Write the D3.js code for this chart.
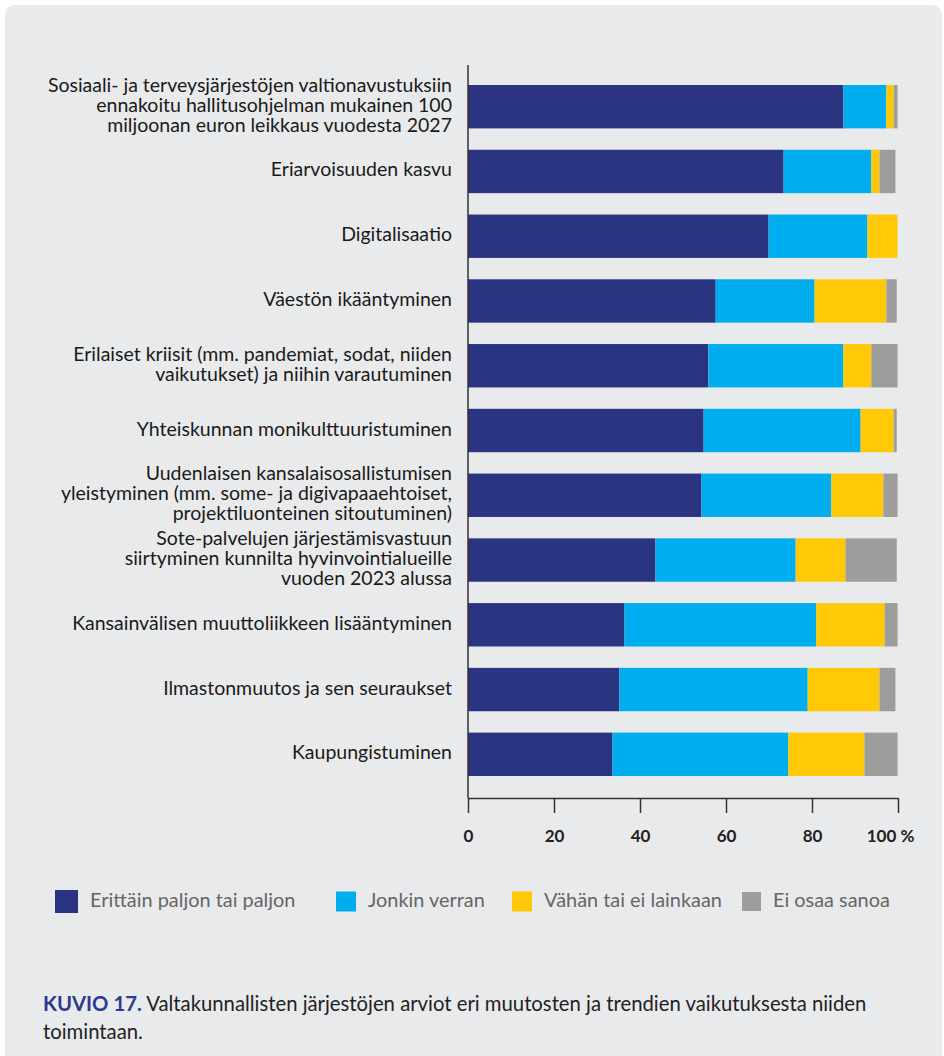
<!DOCTYPE html>
<html>
<head>
<meta charset="utf-8">
<script src="https://cdn.jsdelivr.net/npm/d3@7"></script>
<style>
  html, body { margin: 0; padding: 0; background: #ffffff; }
  svg { display: block; }
</style>
</head>
<body>
<div id="chart"></div>
<script>
// Kategoriat (rivitetty kuten alkuperäisessä)
const categories = [
    ["Sosiaali- ja terveysjärjestöjen valtionavustuksiin", "ennakoitu hallitusohjelman mukainen 100", "miljoonan euron leikkaus vuodesta 2027"],
    ["Eriarvoisuuden kasvu"],
    ["Digitalisaatio"],
    ["Väestön ikääntyminen"],
    ["Erilaiset kriisit (mm. pandemiat, sodat, niiden", "vaikutukset) ja niihin varautuminen"],
    ["Yhteiskunnan monikulttuuristuminen"],
    ["Uudenlaisen kansalaisosallistumisen", "yleistyminen (mm. some- ja digivapaaehtoiset,", "projektiluonteinen sitoutuminen)"],
    ["Sote-palvelujen järjestämisvastuun", "siirtyminen kunnilta hyvinvointialueille", "vuoden 2023 alussa"],
    ["Kansainvälisen muuttoliikkeen lisääntyminen"],
    ["Ilmastonmuutos ja sen seuraukset"],
    ["Kaupungistuminen"]
];

// Sarjat (%)
const veryMuch = [87.3, 73.4, 69.9, 57.6, 55.9, 54.8, 54.3, 43.6, 36.4, 35.2, 33.6];
const somewhat = [10.0, 20.4, 23.0, 23.0, 31.4, 36.5, 30.2, 32.6, 44.6, 43.8, 40.9];
const little   = [1.7, 1.9, 7.0, 16.7, 6.5, 7.7, 12.1, 11.6, 15.9, 16.7, 17.7];
const dontKnow = [0.9, 3.7, 0.0, 2.4, 6.1, 0.7, 3.3, 11.9, 3.0, 3.7, 7.7];

const seriesNames = ["Erittäin paljon tai paljon", "Jonkin verran", "Vähän tai ei lainkaan", "Ei osaa sanoa"];
const seriesColors = ["#2a3481", "#00aeef", "#ffc907", "#9d9d9c"];

const xTicks = [0, 20, 40, 60, 80, 100];

const W = 944, H = 1056;
const font = "Lato, 'Open Sans', sans-serif";

const svg = d3.select("#chart")
    .append("svg")
    .attr("width", W)
    .attr("height", H);

// Tausta-kortti
svg.append("rect")
    .attr("x", 5).attr("y", 5)
    .attr("width", 937).attr("height", H + 20)
    .attr("rx", 10)
    .attr("fill", "#e9eaec");

// Taulukko d3.stackia varten
const keys = ["a", "b", "c", "d"];
const rows = categories.map((c, i) => ({
    idx: i, a: veryMuch[i], b: somewhat[i], c: little[i], d: dontKnow[i]
}));
const stacked = d3.stack().keys(keys)(rows);

// Mittakaavat
const x = d3.scaleLinear().domain([0, 100]).range([468, 898]);
const y = d3.scaleBand()
    .domain(d3.range(categories.length))
    .range([85, 776])
    .paddingInner(0.33)
    .paddingOuter(0);

// Palkit
svg.append("g")
    .selectAll("g")
    .data(stacked)
    .join("g")
    .attr("fill", (d, i) => seriesColors[i])
    .selectAll("rect")
    .data(d => d)
    .join("rect")
    .attr("x", d => x(d[0]))
    .attr("y", d => y(d.data.idx))
    .attr("width", d => Math.max(0, x(d[1]) - x(d[0])))
    .attr("height", y.bandwidth());

// Pystyakseli
svg.append("line")
    .attr("x1", x(0)).attr("x2", x(0))
    .attr("y1", 65).attr("y2", 798)
    .attr("stroke", "#333")
    .attr("stroke-width", 1.5);

// Vaaka-akseli
const xAxis = svg.append("g")
    .attr("transform", "translate(0,798)")
    .call(d3.axisBottom(x)
        .tickValues(xTicks)
        .tickSize(15)
        .tickSizeOuter(0)
        .tickPadding(17)
        .tickFormat(d => d === 100 ? "100 %" : d));

xAxis.select(".domain").attr("stroke", "#333").attr("stroke-width", 1.5);
xAxis.selectAll(".tick line").attr("stroke", "#333").attr("stroke-width", 1.5);
xAxis.selectAll(".tick text")
    .attr("fill", "#222")
    .style("font-family", font)
    .style("font-size", "17px")
    .style("font-weight", "bold")
    .attr("dx", d => d === 100 ? -8 : 0);

// Kategorioiden nimet
const lineH = 20;
const labels = svg.append("g")
    .selectAll("text")
    .data(categories)
    .join("text")
    .attr("text-anchor", "end")
    .attr("fill", "#1a1a1a")
    .style("font-family", font)
    .style("font-size", "19.5px");

labels.each(function(lines, i) {
    const cy = y(i) + y.bandwidth() / 2;
    d3.select(this).selectAll("tspan")
        .data(lines)
        .join("tspan")
        .attr("x", 452)
        .attr("y", (d, j) => cy + (j - (lines.length - 1) / 2) * lineH + 5)
        .text(d => d);
});

// Selite
const legendX = [55, 336, 512, 742];
const legendSize = [23, 20, 20, 19];
const legend = svg.append("g")
    .selectAll("g")
    .data(seriesNames)
    .join("g");

legend.append("rect")
    .attr("x", (d, i) => legendX[i])
    .attr("y", (d, i) => 901.5 - legendSize[i] / 2)
    .attr("width", (d, i) => legendSize[i])
    .attr("height", (d, i) => legendSize[i])
    .attr("fill", (d, i) => seriesColors[i]);

legend.append("text")
    .attr("x", (d, i) => legendX[i] + legendSize[i] + 12)
    .attr("y", 907)
    .attr("fill", "#666")
    .style("font-family", font)
    .style("font-size", "19.9px")
    .text(d => d);

// Kuvateksti
const caption = svg.append("text")
    .attr("x", 43)
    .attr("y", 1011)
    .style("font-family", font)
    .style("font-size", "20.3px")
    .attr("fill", "#222");

caption.append("tspan")
    .attr("fill", "#2b3a8f")
    .style("font-weight", "bold")
    .text("KUVIO 17.");
caption.append("tspan")
    .text(" Valtakunnallisten järjestöjen arviot eri muutosten ja trendien vaikutuksesta niiden");

svg.append("text")
    .attr("x", 43)
    .attr("y", 1039)
    .style("font-family", font)
    .style("font-size", "20.3px")
    .attr("fill", "#222")
    .text("toimintaan.");
</script>
</body>
</html>
